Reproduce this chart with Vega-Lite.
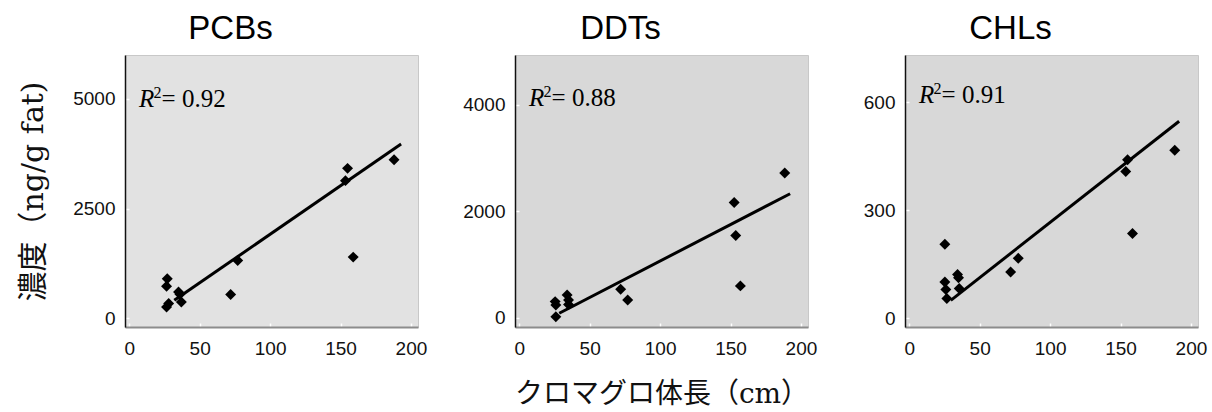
{
  "$schema": "https://vega.github.io/schema/vega-lite/v6.json",
  "background": "white",
  "padding": {"left": 18, "top": 12, "right": 10, "bottom": 0},
  "bounds": "flush",
  "spacing": 97,
  "config": {
    "view": {"stroke": "#c8c8c8", "strokeWidth": 1},
    "axis": {
      "labelFont": "Liberation Sans",
      "labelFontSize": 19,
      "labelColor": "#111111",
      "grid": false,
      "tickColor": "white",
      "tickSize": -4,
      "tickWidth": 1.5,
      "titleFont": "DejaVu Serif, Noto Sans CJK JP",
      "titleFontWeight": "normal",
      "titleColor": "#111111"
    },
    "axisX": {"domainColor": "#8c8c8c", "domainWidth": 2, "labelPadding": 16, "titleFontSize": 28},
    "axisY": {"domainColor": "#111111", "domainWidth": 1.5, "labelPadding": 14, "titleFontSize": 30, "format": "d"},
    "title": {"font": "Liberation Sans", "fontSize": 33, "fontWeight": "normal", "color": "#000000", "dx": -41, "offset": 9}
  },
  "datasets": {
    "pts": [
      {"c": "PCBs", "len": 27, "conc": 902},
      {"c": "PCBs", "len": 26.5, "conc": 727},
      {"c": "PCBs", "len": 28, "conc": 334},
      {"c": "PCBs", "len": 26.5, "conc": 257},
      {"c": "PCBs", "len": 35, "conc": 598},
      {"c": "PCBs", "len": 36, "conc": 545},
      {"c": "PCBs", "len": 37, "conc": 370},
      {"c": "PCBs", "len": 72, "conc": 539},
      {"c": "PCBs", "len": 77, "conc": 1318},
      {"c": "PCBs", "len": 153.5, "conc": 3136},
      {"c": "PCBs", "len": 155, "conc": 3416},
      {"c": "PCBs", "len": 159, "conc": 1393},
      {"c": "PCBs", "len": 188, "conc": 3614},
      {"c": "DDTs", "len": 25.5, "conc": 306},
      {"c": "DDTs", "len": 26, "conc": 244},
      {"c": "DDTs", "len": 26, "conc": 24},
      {"c": "DDTs", "len": 34, "conc": 432},
      {"c": "DDTs", "len": 35, "conc": 338},
      {"c": "DDTs", "len": 35, "conc": 250},
      {"c": "DDTs", "len": 72, "conc": 539},
      {"c": "DDTs", "len": 77, "conc": 338},
      {"c": "DDTs", "len": 152.6, "conc": 2166},
      {"c": "DDTs", "len": 153.7, "conc": 1546},
      {"c": "DDTs", "len": 157, "conc": 601},
      {"c": "DDTs", "len": 188.5, "conc": 2717},
      {"c": "CHLs", "len": 25.3, "conc": 206},
      {"c": "CHLs", "len": 25.3, "conc": 101},
      {"c": "CHLs", "len": 26, "conc": 80},
      {"c": "CHLs", "len": 26.7, "conc": 55},
      {"c": "CHLs", "len": 34.3, "conc": 122},
      {"c": "CHLs", "len": 35, "conc": 113},
      {"c": "CHLs", "len": 35.5, "conc": 83},
      {"c": "CHLs", "len": 72, "conc": 129},
      {"c": "CHLs", "len": 77.4, "conc": 167},
      {"c": "CHLs", "len": 153.7, "conc": 408},
      {"c": "CHLs", "len": 155, "conc": 441},
      {"c": "CHLs", "len": 158.5, "conc": 236},
      {"c": "CHLs", "len": 188.5, "conc": 467}
    ],
    "fit": [
      {"c": "PCBs", "len": 32, "conc": 409},
      {"c": "PCBs", "len": 193, "conc": 3970},
      {"c": "DDTs", "len": 28.4, "conc": 88},
      {"c": "DDTs", "len": 192.3, "conc": 2329},
      {"c": "CHLs", "len": 29.5, "conc": 50},
      {"c": "CHLs", "len": 191.6, "conc": 548}
    ],
    "r2": [
      {"c": "PCBs", "len": 7, "conc": 5000, "val": "= 0.92"},
      {"c": "DDTs", "len": 7, "conc": 4126, "val": "= 0.88"},
      {"c": "CHLs", "len": 7, "conc": 622, "val": "= 0.91"}
    ]
  },
  "hconcat": [
    {
      "title": "PCBs",
      "width": 293,
      "height": 272,
      "view": {"fill": "#e2e2e2"},
      "encoding": {
        "x": {"field": "len", "type": "quantitative", "scale": {"domain": [-3, 205], "nice": false, "zero": false}, "axis": {"values": [0, 50, 100, 150, 200], "title": null}},
        "y": {"field": "conc", "type": "quantitative", "scale": {"domain": [-200, 6000], "nice": false, "zero": false}, "axis": {"values": [0, 2500, 5000], "title": "濃度（ng/g fat)", "titlePadding": 24}}
      },
      "layer": [
        {"data": {"name": "fit"}, "transform": [{"filter": "datum.c == 'PCBs'"}], "mark": {"type": "line", "color": "black", "strokeWidth": 3}},
        {"data": {"name": "pts"}, "transform": [{"filter": "datum.c == 'PCBs'"}], "mark": {"type": "point", "shape": "diamond", "filled": true, "color": "black", "size": 120, "opacity": 1}},
        {"data": {"name": "r2"}, "transform": [{"filter": "datum.c == 'PCBs'"}], "mark": {"type": "text", "text": "R", "font": "Liberation Serif", "fontStyle": "italic", "fontSize": 25, "align": "left", "baseline": "middle", "color": "black"}},
        {"data": {"name": "r2"}, "transform": [{"filter": "datum.c == 'PCBs'"}], "mark": {"type": "text", "text": "2", "font": "Liberation Serif", "fontSize": 16, "align": "left", "baseline": "middle", "dx": 14.5, "dy": -6, "color": "black"}},
        {"data": {"name": "r2"}, "transform": [{"filter": "datum.c == 'PCBs'"}], "mark": {"type": "text", "font": "Liberation Serif", "fontSize": 25, "align": "left", "baseline": "middle", "dx": 22.5, "color": "black"}, "encoding": {"text": {"field": "val"}}}
      ]
    },
    {
      "title": "DDTs",
      "width": 293,
      "height": 272,
      "view": {"fill": "#d8d8d8"},
      "encoding": {
        "x": {"field": "len", "type": "quantitative", "scale": {"domain": [-3, 205], "nice": false, "zero": false}, "axis": {"values": [0, 50, 100, 150, 200], "title": "クロマグロ体長（cm）", "titlePadding": 22}},
        "y": {"field": "conc", "type": "quantitative", "scale": {"domain": [-170, 4930], "nice": false, "zero": false}, "axis": {"values": [0, 2000, 4000], "title": null}}
      },
      "layer": [
        {"data": {"name": "fit"}, "transform": [{"filter": "datum.c == 'DDTs'"}], "mark": {"type": "line", "color": "black", "strokeWidth": 3}},
        {"data": {"name": "pts"}, "transform": [{"filter": "datum.c == 'DDTs'"}], "mark": {"type": "point", "shape": "diamond", "filled": true, "color": "black", "size": 120, "opacity": 1}},
        {"data": {"name": "r2"}, "transform": [{"filter": "datum.c == 'DDTs'"}], "mark": {"type": "text", "text": "R", "font": "Liberation Serif", "fontStyle": "italic", "fontSize": 25, "align": "left", "baseline": "middle", "color": "black"}},
        {"data": {"name": "r2"}, "transform": [{"filter": "datum.c == 'DDTs'"}], "mark": {"type": "text", "text": "2", "font": "Liberation Serif", "fontSize": 16, "align": "left", "baseline": "middle", "dx": 14.5, "dy": -6, "color": "black"}},
        {"data": {"name": "r2"}, "transform": [{"filter": "datum.c == 'DDTs'"}], "mark": {"type": "text", "font": "Liberation Serif", "fontSize": 25, "align": "left", "baseline": "middle", "dx": 22.5, "color": "black"}, "encoding": {"text": {"field": "val"}}}
      ]
    },
    {
      "title": "CHLs",
      "width": 293,
      "height": 272,
      "view": {"fill": "#d8d8d8"},
      "encoding": {
        "x": {"field": "len", "type": "quantitative", "scale": {"domain": [-3, 205], "nice": false, "zero": false}, "axis": {"values": [0, 50, 100, 150, 200], "title": null}},
        "y": {"field": "conc", "type": "quantitative", "scale": {"domain": [-24, 732], "nice": false, "zero": false}, "axis": {"values": [0, 300, 600], "title": null}}
      },
      "layer": [
        {"data": {"name": "fit"}, "transform": [{"filter": "datum.c == 'CHLs'"}], "mark": {"type": "line", "color": "black", "strokeWidth": 3}},
        {"data": {"name": "pts"}, "transform": [{"filter": "datum.c == 'CHLs'"}], "mark": {"type": "point", "shape": "diamond", "filled": true, "color": "black", "size": 120, "opacity": 1}},
        {"data": {"name": "r2"}, "transform": [{"filter": "datum.c == 'CHLs'"}], "mark": {"type": "text", "text": "R", "font": "Liberation Serif", "fontStyle": "italic", "fontSize": 25, "align": "left", "baseline": "middle", "color": "black"}},
        {"data": {"name": "r2"}, "transform": [{"filter": "datum.c == 'CHLs'"}], "mark": {"type": "text", "text": "2", "font": "Liberation Serif", "fontSize": 16, "align": "left", "baseline": "middle", "dx": 14.5, "dy": -6, "color": "black"}},
        {"data": {"name": "r2"}, "transform": [{"filter": "datum.c == 'CHLs'"}], "mark": {"type": "text", "font": "Liberation Serif", "fontSize": 25, "align": "left", "baseline": "middle", "dx": 22.5, "color": "black"}, "encoding": {"text": {"field": "val"}}}
      ]
    }
  ]
}
